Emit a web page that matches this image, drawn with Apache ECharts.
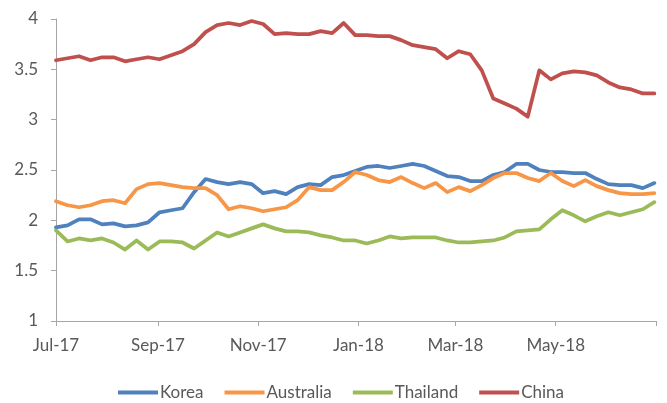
<!DOCTYPE html>
<html><head><meta charset="utf-8">
<script src="https://cdn.jsdelivr.net/npm/echarts@6/dist/echarts.min.js"></script>
<style>html,body{margin:0;padding:0;background:#fff}#c{width:667px;height:403px}</style>
</head><body><div id="c"></div>
<script>
// Weekly observations starting on this date
const startDate = '2017-07-01';
const axisEndDate = '2018-07-01';
const tickDates = ['2017-07-01','2017-09-01','2017-11-01','2018-01-01','2018-03-01','2018-05-01','2018-07-01'];
const tickLabels = ['Jul-17','Sep-17','Nov-17','Jan-18','Mar-18','May-18',''];
const seriesNames = ['Korea','Australia','Thailand','China'];
const korea = [1.93,1.95,2.01,2.01,1.96,1.97,1.94,1.95,1.98,2.08,2.10,2.12,2.28,2.41,2.38,2.36,2.38,2.36,2.27,2.29,2.26,2.33,2.36,2.35,2.43,2.45,2.49,2.53,2.54,2.52,2.54,2.56,2.54,2.49,2.44,2.43,2.39,2.39,2.45,2.48,2.56,2.56,2.50,2.48,2.48,2.47,2.47,2.41,2.36,2.35,2.35,2.32,2.37];
const australia = [2.19,2.15,2.13,2.15,2.19,2.20,2.17,2.31,2.36,2.37,2.35,2.33,2.32,2.32,2.25,2.11,2.14,2.12,2.09,2.11,2.13,2.20,2.33,2.30,2.30,2.38,2.48,2.45,2.40,2.38,2.43,2.37,2.32,2.37,2.28,2.33,2.29,2.35,2.42,2.47,2.47,2.42,2.39,2.47,2.39,2.34,2.40,2.34,2.30,2.27,2.26,2.26,2.27];
const thailand = [1.90,1.79,1.82,1.80,1.82,1.78,1.71,1.80,1.71,1.79,1.79,1.78,1.72,1.80,1.88,1.84,1.88,1.92,1.96,1.92,1.89,1.89,1.88,1.85,1.83,1.80,1.80,1.77,1.80,1.84,1.82,1.83,1.83,1.83,1.80,1.78,1.78,1.79,1.80,1.83,1.89,1.90,1.91,2.01,2.10,2.05,1.99,2.04,2.08,2.05,2.08,2.11,2.18];
const china = [3.59,3.61,3.63,3.59,3.62,3.62,3.58,3.60,3.62,3.60,3.64,3.68,3.75,3.87,3.94,3.96,3.94,3.98,3.95,3.85,3.86,3.85,3.85,3.88,3.86,3.96,3.84,3.84,3.83,3.83,3.79,3.74,3.72,3.70,3.61,3.68,3.65,3.49,3.21,3.16,3.11,3.03,3.49,3.40,3.46,3.48,3.47,3.44,3.37,3.32,3.30,3.26,3.26];
const colors = ['#4F81BD','#F79646','#9BBB59','#C0504D'];

const DAY = 86400000;
const t0 = Date.parse(startDate);
const dayOf = s => Math.round((Date.parse(s) - t0) / DAY);
const tickDays = tickDates.map(dayOf);
const labelMap = {};
tickDays.forEach((d, i) => { labelMap[d] = tickLabels[i]; });
const toPairs = arr => arr.map((v, i) => [i * 7, v]);

const FONT = 'Lato';
const TXT = '#595959';
const AX = '#A6A6A6';

const chart = echarts.init(document.getElementById('c'), null, {renderer: 'canvas'});
chart.setOption({
  animation: false,
  color: colors,
  grid: {left: 56, right: 11, top: 19, bottom: 82},
  xAxis: {
    type: 'value', min: 0, max: dayOf(axisEndDate),
    splitLine: {show: false},
    axisLine: {show: true, lineStyle: {color: AX, width: 1}},
    axisTick: {show: true, length: 5, lineStyle: {color: AX}, customValues: tickDays},
    axisLabel: {customValues: tickDays.slice(0, 6), formatter: v => labelMap[Math.round(v)] || '',
      color: TXT, fontFamily: FONT, fontSize: 17, margin: 16}
  },
  yAxis: {
    type: 'value', min: 1, max: 4, interval: 0.5,
    splitLine: {show: false},
    axisLine: {show: true, lineStyle: {color: AX, width: 1}},
    axisTick: {show: true, length: 5, lineStyle: {color: AX}},
    axisLabel: {color: TXT, fontFamily: FONT, fontSize: 17, margin: 18}
  },
  legend: {
    top: 379, left: 113,
    icon: 'rect', itemWidth: 40, itemHeight: 4, itemGap: 21,
    textStyle: {color: TXT, fontFamily: FONT, fontSize: 17, padding: [0,0,0,-3]},
    data: seriesNames
  },
  series: [korea, australia, thailand, china].map((arr, i) => ({
    name: seriesNames[i], type: 'line', data: toPairs(arr),
    symbol: 'none', smooth: false,
    lineStyle: {width: 3.75, color: colors[i], cap: 'round', join: 'round'}
  }))
});
</script></body></html>
